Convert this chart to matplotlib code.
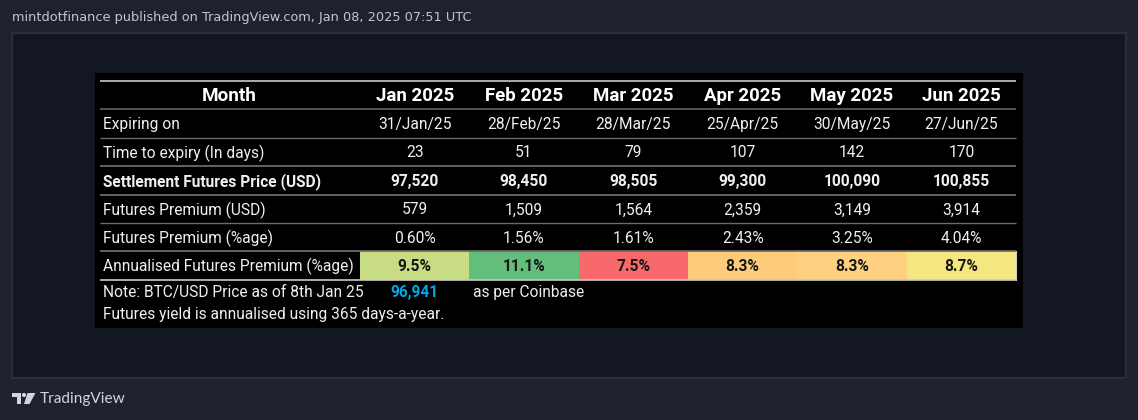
import matplotlib
matplotlib.use("Agg")
import matplotlib.pyplot as plt
from matplotlib.patches import Rectangle, Polygon, Circle

months = ["Jan 2025", "Feb 2025", "Mar 2025", "Apr 2025", "May 2025", "Jun 2025"]
row_labels = ["Expiring on", "Time to expiry (In days)", "Settlement Futures Price (USD)",
              "Futures Premium (USD)", "Futures Premium (%age)", "Annualised Futures Premium (%age)"]
expiry = ["31/Jan/25", "28/Feb/25", "28/Mar/25", "25/Apr/25", "30/May/25", "27/Jun/25"]
days = [23, 51, 79, 107, 142, 170]
settlement = [97520, 98450, 98505, 99300, 100090, 100855]
premium_usd = [579, 1509, 1564, 2359, 3149, 3914]
premium_pct = [0.60, 1.56, 1.61, 2.43, 3.25, 4.04]
annualised = [9.5, 11.1, 7.5, 8.3, 8.3, 8.7]
heat_colors = ["#c8dc84", "#63be7b", "#f8696b", "#fdcb7a", "#fdd17f", "#f5e780"]
spot_price = 96941

W, H = 1138, 420
BG, PANEL, EDGE = "#1e222d", "#131722", "#2a2e39"
FONT = "Roboto"
BODY = 11.2

fig = plt.figure(figsize=(W / 100, H / 100), dpi=100, facecolor=BG)
ax = fig.add_axes([0, 0, 1, 1])
ax.set_xlim(0, W)
ax.set_ylim(H, 0)
ax.axis("off")

ax.add_patch(Rectangle((12, 33), 1114, 345, fc=PANEL, ec=EDGE, lw=1.6))
ax.add_patch(Rectangle((95.5, 73), 927.5, 255, fc="black", ec="none"))

col_edges = [360 + i * 109.33 for i in range(7)]
row_edges = [81, 109, 137.5, 166, 194.5, 223, 251, 279.5]
left, right = 100, col_edges[-1]
label_x = 103
centers = [(col_edges[i] + col_edges[i + 1]) / 2 for i in range(6)]


def mid(i):
    return (row_edges[i] + row_edges[i + 1]) / 2 + 1.2


# heat cells
for i, c in enumerate(heat_colors):
    ax.add_patch(Rectangle((col_edges[i], row_edges[6]), col_edges[i + 1] - col_edges[i],
                           row_edges[7] - row_edges[6], fc=c, ec="none", zorder=2))

# rules
rule_styles = [("#c9c9c9", 1.2), ("#6b6b6b", 1.1), ("#6b6b6b", 1.0), ("#6b6b6b", 1.3),
               ("#6b6b6b", 1.3), ("#6b6b6b", 1.0), ("#6b6b6b", 1.3), ("#c9c9c9", 1.2)]
for y, (c, lw) in zip(row_edges, rule_styles):
    ax.plot([left, right], [y, y], color=c, lw=lw, zorder=3, solid_capstyle="butt")
ax.plot([right, right], [row_edges[6], row_edges[7]], color="#c9c9c9", lw=0.8, zorder=3)

TXT = "#f0f0f0"
ax.text((left + col_edges[0]) / 2 - 0.5, mid(0), "Month", color="white", fontsize=13.6, fontweight="bold",
        family=FONT, ha="center", va="center")
for x, m in zip(centers, months):
    ax.text(x, mid(0), m, color="white", fontsize=13.4, fontweight="bold", family=FONT,
            ha="center", va="center")

rows = [expiry,
        [str(v) for v in days],
        [f"{v:,}" for v in settlement],
        [f"{v:,}" for v in premium_usd],
        [f"{v:.2f}%" for v in premium_pct]]
for r, (label, vals) in enumerate(zip(row_labels, rows), start=1):
    weight = "bold" if r == 3 else "normal"
    ax.text(label_x, mid(r), label, color=TXT, fontsize=BODY, fontweight=weight, family=FONT,
            ha="left", va="center")
    for x, v in zip(centers, vals):
        ax.text(x, mid(r), v, color=TXT, fontsize=BODY, fontweight=weight, family=FONT,
                ha="center", va="center")

ax.text(label_x, mid(6), row_labels[5], color=TXT, fontsize=BODY, family=FONT, ha="left", va="center")
for x, v in zip(centers, annualised):
    ax.text(x, mid(6), f"{v:.1f}%", color="#161616", fontsize=BODY, fontweight="bold", family=FONT,
            ha="center", va="center", zorder=4)

ax.text(label_x, 292.5, "Note: BTC/USD Price as of 8th Jan 25", color=TXT, fontsize=BODY, family=FONT,
        ha="left", va="center")
ax.text(centers[0], 292.5, f"{spot_price:,}", color="#00a6e6", fontsize=BODY, fontweight="bold", family=FONT,
        ha="center", va="center")
ax.text(473, 292.5, "as per Coinbase", color=TXT, fontsize=BODY, family=FONT, ha="left", va="center")
ax.text(label_x, 314.5, "Futures yield is annualised using 365 days-a-year.", color=TXT, fontsize=BODY,
        family=FONT, ha="left", va="center")

# header line
ax.text(12, 18, "mintdotfinance published on TradingView.com, Jan 08, 2025 07:51 UTC",
        color="#c3c6ce", fontsize=9.3, family="DejaVu Sans", ha="left", va="center")

# footer logo
LOGO = "#d1d4dc"
ax.add_patch(Polygon([(12, 393), (21, 393), (21, 404), (16.7, 404), (16.7, 397), (12, 397)], fc=LOGO, ec="none"))
ax.add_patch(Circle((24, 395), 2.1, fc=LOGO, ec="none"))
ax.add_patch(Polygon([(24, 404), (27.5, 393), (35.5, 393), (29.5, 404)], fc=LOGO, ec="none"))
ax.text(40, 399.5, "TradingView", color=LOGO, fontsize=11.1, family="Lato", ha="left", va="center")

fig.savefig("out.png", dpi=100, facecolor=BG)
